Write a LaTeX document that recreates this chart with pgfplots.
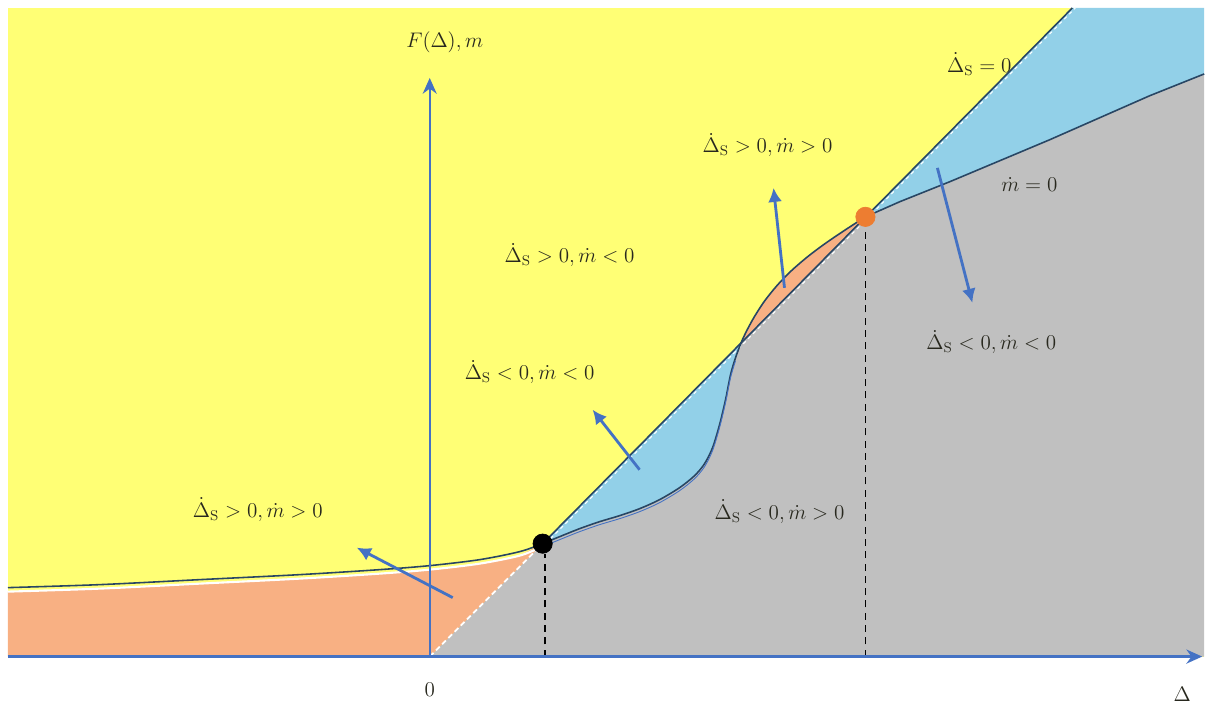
\documentclass[border=0pt]{standalone}
\usepackage{pgfplots}
\pgfplotsset{compat=1.18}
\usetikzlibrary{arrows.meta}
\definecolor{bgy}{RGB}{255,255,117}
\definecolor{orr}{RGB}{248,176,131}
\definecolor{blu}{RGB}{146,208,232}
\definecolor{gry}{RGB}{192,192,192}
\definecolor{axb}{RGB}{68,114,196}
\definecolor{crv}{RGB}{40,70,100}
\definecolor{dotor}{RGB}{237,125,49}
\definecolor{txt}{RGB}{40,40,30}
\tikzset{lab/.style={font=\large,text=txt}}
\begin{document}
\begin{tikzpicture}
\begin{axis}[width=24.1cm,height=14.08cm,scale only axis,
  xmin=0,xmax=1205,ymin=0,ymax=704,hide axis,clip=false]
\addplot[draw=none] coordinates {(0,0) (1205,704)};
% yellow background
\addplot[fill=bgy,draw=none] coordinates {(8,47) (8,696) (1205,696) (1205,47)} -- cycle;
% gray region
\addplot[fill=gry,draw=none] coordinates {(430,47) (543,160) (560,167) (580,175) (600,182) (620,188) (640,195) (660,204) (680,216) (695,228) (705,240) (713,256) (720,279) (726,304) (731,329) (736,346) (742,362) (748,374.6) (755,387.3) (765,402.7) (778,418.8) (792,433.2) (808,447) (824,459.1) (840,470.1) (854,479.3) (866,487) (900,502) (950,522) (1000,543) (1050,564) (1100,586) (1150,608) (1205,630) (1205,47)} -- cycle;
% blue lens left
\addplot[fill=blu,draw=none] coordinates {(543,160) (742,362) (736,346) (731,329) (726,304) (720,279) (713,256) (705,240) (695,228) (680,216) (660,204) (640,195) (620,188) (600,182) (580,175) (560,167)} -- cycle;
% orange lens
\addplot[fill=orr,draw=none] coordinates {(742,362) (748,374.6) (755,387.3) (765,402.7) (778,418.8) (792,433.2) (808,447) (824,459.1) (840,470.1) (854,479.3) (866,487)} -- cycle;
% blue wedge right
\addplot[fill=blu,draw=none] coordinates {(866,487) (1073,696) (1205,696) (1205,630) (1150,608) (1100,586) (1050,564) (1000,543) (950,522) (900,502)} -- cycle;
% orange left region
\addplot[fill=orr,draw=none] coordinates {(8,47) (8,112) (100,115) (200,120) (300,125) (380,130) (430,134) (480,140) (520,148) (543,160) (430,47)} -- cycle;
% white line below F
\addplot[white,line width=1.2pt,smooth] coordinates {(8,112) (100,115) (200,120) (300,125) (380,130) (430,134) (480,140) (520,148) (540,156)};
% F curve
\addplot[crv,line width=0.9pt,smooth] coordinates {(8,116) (100,119) (200,124) (300,129) (380,134) (430,138) (480,144) (520,152) (543,160)};
% Delta_s = 0 line
\addplot[white,line width=1pt,dash pattern=on 3pt off 2pt] coordinates {(430,47) (543,160)};
\addplot[crv,line width=0.9pt] coordinates {(543,160) (1073,696)};
\addplot[white,line width=0.6pt,dash pattern=on 2pt off 2pt] coordinates {(546,160) (1076,696)};
% m = 0 curve
\addplot[crv,line width=0.9pt,smooth] coordinates {(543,160) (560,167) (580,175) (600,182) (620,188) (640,195) (660,204) (680,216) (695,228) (705,240) (713,256) (720,279) (726,304) (731,329) (736,346) (742,362) (748,374.6) (755,387.3) (765,402.7) (778,418.8) (792,433.2) (808,447) (824,459.1) (840,470.1) (854,479.3) (866,487)};
\addplot[crv,line width=0.9pt] coordinates {(866,487) (900,502) (950,522) (1000,543) (1050,564) (1100,586) (1150,608) (1205,630)};
\addplot[axb,line width=0.5pt,smooth] coordinates {(543,157) (560,164) (580,172) (600,179) (620,185) (640,192) (660,201) (680,213) (695,225) (705,237) (713,253) (720,276) (726,301) (731,326) (736,343)};
% dashed verticals
\addplot[black,line width=1pt,dash pattern=on 4pt off 3pt] coordinates {(545,47) (545,150)};
\addplot[black,line width=1pt,dash pattern=on 4pt off 3pt] coordinates {(866,47) (866,478)};
% axes
\addplot[axb,line width=1.7pt,-{Stealth[length=9pt,width=8pt]}] coordinates {(8,47) (1203,47)};
\addplot[axb,line width=1.2pt,-{Stealth[length=9pt,width=8pt]}] coordinates {(430,47) (430,626)};
% arrows
\addplot[axb,line width=1.6pt,-{Latex[length=8pt,width=8pt]}] coordinates {(453,106) (357,156)};
\addplot[axb,line width=1.6pt,-{Latex[length=8pt,width=8pt]}] coordinates {(640,234) (593,294)};
\addplot[axb,line width=1.6pt,-{Latex[length=8pt,width=8pt]}] coordinates {(785,416) (774,516)};
\addplot[axb,line width=1.6pt,-{Latex[length=8pt,width=8pt]}] coordinates {(938,536) (973,401)};
% dots
\addplot[only marks,mark=*,mark size=5.5pt,black] coordinates {(543,160)};
\addplot[only marks,mark=*,mark size=5.5pt,color=dotor] coordinates {(866,487)};
% labels
\node[lab] at (axis cs:445,662) {$F(\Delta), m$};
\node[lab] at (axis cs:258,194) {$\dot{\Delta}_{\mathrm{S}} > 0, \dot{m} > 0$};
\node[lab] at (axis cs:570,449) {$\dot{\Delta}_{\mathrm{S}} > 0, \dot{m} < 0$};
\node[lab] at (axis cs:530,332) {$\dot{\Delta}_{\mathrm{S}} < 0, \dot{m} < 0$};
\node[lab] at (axis cs:768,559) {$\dot{\Delta}_{\mathrm{S}} > 0, \dot{m} > 0$};
\node[lab] at (axis cs:980,640) {$\dot{\Delta}_{\mathrm{S}} = 0$};
\node[lab] at (axis cs:1030,519) {$\dot{m} = 0$};
\node[lab] at (axis cs:992,362) {$\dot{\Delta}_{\mathrm{S}} < 0, \dot{m} < 0$};
\node[lab] at (axis cs:780,192) {$\dot{\Delta}_{\mathrm{S}} < 0, \dot{m} > 0$};
\node[lab] at (axis cs:430,14) {$0$};
\node[lab] at (axis cs:1183,9) {$\Delta$};
\end{axis}
\end{tikzpicture}
\end{document}
